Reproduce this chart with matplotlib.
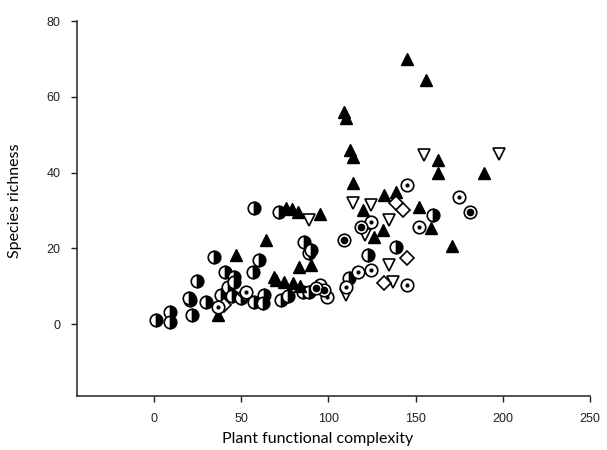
import numpy as np
import matplotlib.pyplot as plt

plt.rcParams['font.family'] = 'Liberation Sans'

# half-filled circles
half_x = [1, 9, 9, 21, 25, 22, 30, 34.5, 41, 42.5, 38.5, 46, 45, 46, 50, 57, 57.5, 60, 63, 62.6,
          73, 85.6, 89, 89, 86, 90, 57.5, 72, 112, 123, 139, 160, 20, 77]
half_y = [1, 3.2, 0.5, 6.3, 11.4, 2.4, 5.8, 17.7, 13.7, 9.8, 7.6, 12.4, 7.5, 11, 7, 13.7, 5.8, 17, 7.6, 5.5,
          6.3, 8.4, 8.4, 18.7, 21.7, 19.5, 30.6, 29.6, 12.1, 18.2, 20.3, 28.8, 7, 7.5]

# filled triangles
tri_x = [145, 156, 109, 110, 112.5, 114, 114.4, 163, 163, 189, 132, 139, 152, 120, 131.6, 126, 159,
         170.7, 95, 76, 79, 82.8, 64.4, 47, 83, 90, 70, 74.7, 80, 84, 36.8, 69]
tri_y = [70, 64.4, 56, 54.5, 46, 44, 37.2, 43.3, 40, 40, 34, 35, 31, 30, 24.8, 23, 25.3,
         20.6, 29, 30.6, 30.5, 29.6, 22.2, 18.2, 15, 15.6, 11.6, 11.1, 10.8, 10, 2.4, 12.4]

# open down triangles
dtri_x = [154.6, 198, 114, 124.7, 134.5, 121, 134.5, 137, 89, 110]
dtri_y = [44.6, 45, 32, 31.4, 27.5, 23.5, 15.6, 11.1, 27.5, 7.7]

# open diamonds
dia_x = [139, 143, 145, 132, 52, 40]
dia_y = [32, 30, 17.4, 10.8, 8, 5]

# open circles with a dot
dot_x = [145, 175, 152, 124.7, 124.7, 117, 110, 145, 53, 95, 99, 37]
dot_y = [36.7, 33.5, 25.6, 27, 14.3, 13.7, 9.8, 10.3, 8.4, 10.3, 7.1, 4.5]

# open circles with a black centre
bdot_x = [181, 119, 109, 97.7, 93]
bdot_y = [29.6, 25.6, 22.2, 9, 9.5]

fig = plt.figure(figsize=(6.07, 4.5), dpi=100)
ax = fig.add_axes([0.127, 0.12, 0.845, 0.833])

ms = 9
ax.plot(half_x, half_y, 'o', ls='none', ms=ms, fillstyle='right', mfc='black',
        markerfacecoloralt='white', mec='black', mew=1.2)
ax.plot(tri_x, tri_y, '^', ls='none', ms=ms, color='black')
ax.plot(dtri_x, dtri_y, 'v', ls='none', ms=ms, mfc='white', mec='black', mew=1.2)
ax.plot(dia_x, dia_y, 'D', ls='none', ms=7, mfc='white', mec='black', mew=1.2)
ax.plot(dot_x, dot_y, 'o', ls='none', ms=ms, mfc='white', mec='black', mew=1.2)
ax.plot(dot_x, dot_y, 'o', ls='none', ms=2, color='black')
ax.plot(bdot_x, bdot_y, 'o', ls='none', ms=ms, mfc='white', mec='black', mew=1.2)
ax.plot(bdot_x, bdot_y, 'o', ls='none', ms=4.5, color='black')

ax.set_xlim(-44, 250)
ax.set_ylim(-19, 80)
ax.set_xticks(np.arange(0, 251, 50))
ax.set_yticks(np.arange(0, 81, 20))

for s in ['top', 'right']:
    ax.spines[s].set_visible(False)
for s in ['left', 'bottom']:
    ax.spines[s].set_color('#333333')
    ax.spines[s].set_linewidth(1.2)
ax.tick_params(direction='out', length=4, width=1, colors='#222222', labelsize=9, pad=8)

ax.set_xlabel('Plant functional complexity', family='Lato', fontsize=11.5)
ax.set_ylabel('Species richness', family='Lato', fontsize=11.5)
ax.xaxis.set_label_coords(0.468, -0.095)
ax.yaxis.set_label_coords(-0.107, 0.52)

fig.savefig('out.png', dpi=100)
